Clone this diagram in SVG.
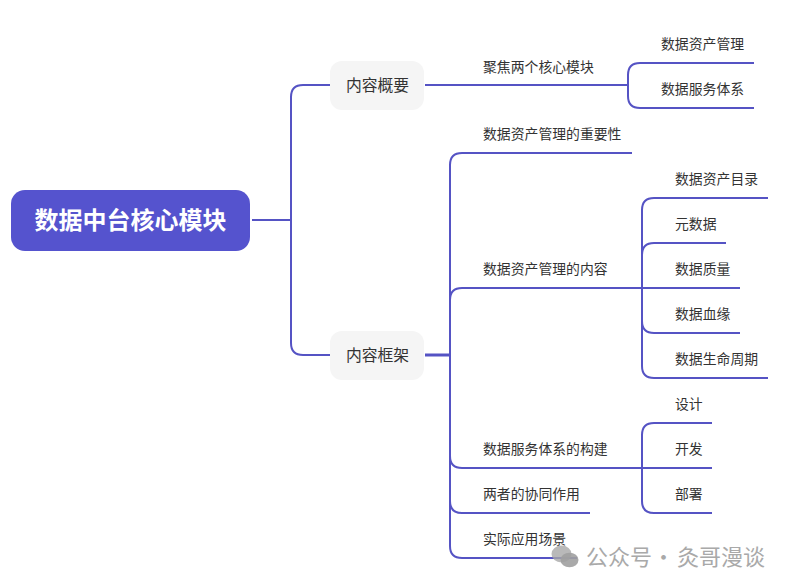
<svg xmlns="http://www.w3.org/2000/svg" width="792" height="588" viewBox="0 0 792 588">
  <style>
    text { font-family: "Noto Sans CJK SC", "Noto Sans", sans-serif; fill: #333333; }
    .leaf { font-size: 13.85px; }
    .branch { font-size: 15.8px; text-anchor: middle; }
    .root { font-size: 24px; font-weight: 700; fill: #ffffff; text-anchor: middle; }
    .mark { font-size: 22px; fill: #a9a9a9; }
    .link { fill: none; stroke: #5553c4; stroke-width: 2; }
    .box { fill: #f5f5f5; }
  </style>
  <rect width="792" height="588" fill="#ffffff"/>
  <g id="connectors">
    <path class="link" d="M252 220H291M330 85H303Q291 85 291 97V343Q291 355 303 355H330"/>
    <path class="link" d="M425 85H628M754 63H640Q628 63 628 75V96Q628 108 640 108H754"/>
    <path class="link" d="M425 355H450" style="stroke-width:3"/>
    <path class="link" d="M632 153H462Q450 153 450 165V546Q450 558 462 558H577"/>
    <path class="link" d="M450 300Q450 288 462 288H740"/>
    <path class="link" d="M450 456Q450 468 462 468H712"/>
    <path class="link" d="M450 501Q450 513 462 513H590"/>
    <path class="link" d="M768 198H654Q642 198 642 210V366Q642 378 654 378H768"/>
    <path class="link" d="M642 255Q642 243 654 243H726"/>
    <path class="link" d="M642 321Q642 333 654 333H740"/>
    <path class="link" d="M712 423H654Q642 423 642 435V501Q642 513 654 513H712"/>
  </g>
  <g id="root"><rect x="11" y="190" width="239" height="61" rx="14" fill="#5553ce"/><text class="root" x="130.500" y="228.500">数据中台核心模块</text></g>
  <g id="n-overview"><rect class="box" x="330" y="61" width="94" height="49" rx="12"/><text class="branch" x="377.500" y="91">内容概要</text></g>
  <g id="n-framework"><rect class="box" x="330" y="331" width="94" height="49" rx="12"/><text class="branch" x="377.500" y="361">内容框架</text></g>
  <g id="n-focus"><text class="leaf" x="483" y="72">聚焦两个核心模块</text></g>
  <g id="n-dam1"><text class="leaf" x="661" y="49">数据资产管理</text></g>
  <g id="n-dss1"><text class="leaf" x="661" y="94">数据服务体系</text></g>
  <g id="n-importance"><text class="leaf" x="483" y="139">数据资产管理的重要性</text></g>
  <g id="n-content"><text class="leaf" x="483" y="274">数据资产管理的内容</text></g>
  <g id="n-catalog"><text class="leaf" x="675" y="184">数据资产目录</text></g>
  <g id="n-meta"><text class="leaf" x="675" y="229">元数据</text></g>
  <g id="n-quality"><text class="leaf" x="675" y="274">数据质量</text></g>
  <g id="n-lineage"><text class="leaf" x="675" y="319">数据血缘</text></g>
  <g id="n-lifecycle"><text class="leaf" x="675" y="364">数据生命周期</text></g>
  <g id="n-build"><text class="leaf" x="483" y="454">数据服务体系的构建</text></g>
  <g id="n-design"><text class="leaf" x="675" y="409">设计</text></g>
  <g id="n-dev"><text class="leaf" x="675" y="454">开发</text></g>
  <g id="n-deploy"><text class="leaf" x="675" y="499">部署</text></g>
  <g id="n-synergy"><text class="leaf" x="483" y="499">两者的协同作用</text></g>
  <g id="n-scene"><text class="leaf" x="483" y="544">实际应用场景</text></g>
  <g id="watermark">
    <ellipse cx="561.500" cy="554" rx="10" ry="8.500" fill="#a8a8a8" opacity=".8"/>
    <ellipse cx="569.500" cy="560" rx="9" ry="7.300" fill="#a0a0a0" opacity=".9"/>
    <text class="mark" x="586" y="565">公众号</text>
    <text class="mark" x="652.500" y="565">·</text>
    <text class="mark" x="677" y="565">灸哥漫谈</text>
  </g>
</svg>
